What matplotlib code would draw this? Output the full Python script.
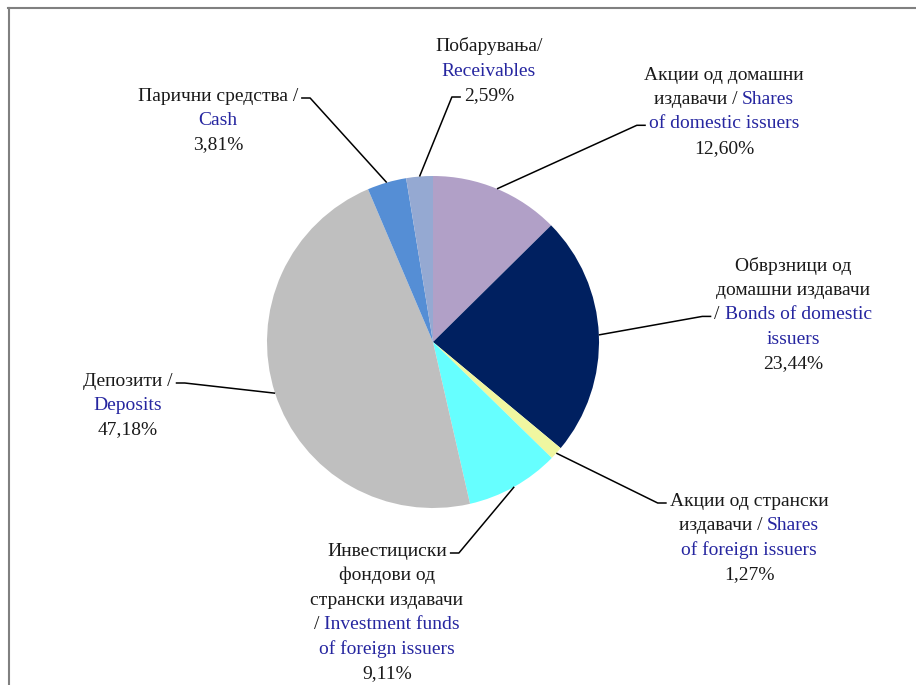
import matplotlib
matplotlib.use("Agg")
import matplotlib.pyplot as plt
from matplotlib.lines import Line2D
import numpy as np

W, H = 916, 685
FONT = "Liberation Serif"
FS = 14
BLACK = "#1a1a1a"
BLUE = "#2626a0"

# data
shares = [12.60, 23.44, 1.27, 9.11, 47.18, 3.81, 2.59]
colors = ["#b1a0c7", "#002060", "#f0f7a0", "#66ffff", "#bfbfbf", "#558ed5", "#95a9d2"]

# label text, (text, is_english) per segment
label_lines = [
    [[("Акции од домашни", 0)], [("издавачи / ", 0), ("Shares", 1)], [("of domestic issuers", 1)]],
    [[("Обврзници од", 0)], [("домашни издавачи", 0)], [("/ ", 0), ("Bonds of domestic", 1)], [("issuers", 1)]],
    [[("Акции од странски", 0)], [("издавачи / ", 0), ("Shares", 1)], [("of foreign issuers", 1)]],
    [[("Инвестициски", 0)], [("фондови од", 0)], [("странски издавачи", 0)],
     [("/ ", 0), ("Investment funds", 1)], [("of foreign issuers", 1)]],
    [[("Депозити /", 0)], [("Deposits", 1)]],
    [[("Парични средства /", 0)], [("Cash", 1)]],
    [[("Побарувања/", 0)], [("Receivables", 1)]],
]

# layout: label centre x, first line centre y (px from top), line step
label_layout = [(724, 73.5, 24.4), (793, 265, 24.2), (749, 500, 24.3), (387, 550, 24.4),
                (128, 380, 24.0), (218, 95, 24.0), (489, 45, 24.5)]
# which line the leader attaches to, and on which side of the leader the text sits
leader_attach = [(2, "right"), (2, "right"), (0, "right"), (0, "left"),
                 (0, "left"), (0, "left"), (2, "right")]
pie_center = (433, H - 342)
pie_radius = 166

fig = plt.figure(figsize=(W / 100, H / 100), dpi=100)
ax = fig.add_axes([0, 0, 1, 1])
wedges, _ = ax.pie(shares, colors=colors, startangle=90, counterclock=False,
                   center=pie_center, radius=pie_radius,
                   wedgeprops=dict(linewidth=0))
ax.set_xlim(0, W)
ax.set_ylim(0, H)
ax.set_aspect("equal")
ax.axis("off")

renderer = fig.canvas.get_renderer()


def text_w(s):
    t = ax.text(0, 0, s, fontsize=FS, family=FONT)
    w = t.get_window_extent(renderer).width
    t.remove()
    return w


for i, w in enumerate(wedges):
    pct = f"{shares[i]:.2f}%".replace(".", ",")
    lines = label_lines[i] + [[(pct, 0)]]
    cx, y0, step = label_layout[i]
    extents = []
    for j, segs in enumerate(lines):
        full = "".join(s for s, _ in segs)
        full_w = text_w(full)
        left = cx - full_w / 2
        yb = H - (y0 + j * step) - 6
        prefix = ""
        for s, eng in segs:
            off = text_w(prefix + s[0]) - text_w(s[0]) if prefix else 0
            ax.text(left + off, yb, s, fontsize=FS, family=FONT,
                    color=BLUE if eng else BLACK, ha="left", va="baseline")
            prefix += s
        extents.append((left, left + full_w))

    # leader line from wedge middle to the label
    li, side = leader_attach[i]
    ang = np.deg2rad((w.theta1 + w.theta2) / 2)
    sx = pie_center[0] + pie_radius * np.cos(ang)
    sy = pie_center[1] + pie_radius * np.sin(ang)
    ey = H - (y0 + li * step + 3)
    if side == "right":
        ex = extents[li][0] - 3
        elbow = ex - 9
    else:
        ex = extents[li][1] + 3
        elbow = ex + 9
    ax.plot([sx, elbow, ex], [sy, ey, ey], color="black", lw=1.1,
            solid_capstyle="butt")

# outer frame (top and left edges visible)
fig.add_artist(Line2D([8 / W, 1], [1 - 7.5 / H] * 2, transform=fig.transFigure,
                      color="#808080", lw=1.5))
fig.add_artist(Line2D([9 / W, 9 / W], [0, 1 - 7.5 / H], transform=fig.transFigure,
                      color="#808080", lw=1.5))

fig.savefig("out.png", dpi=100)
